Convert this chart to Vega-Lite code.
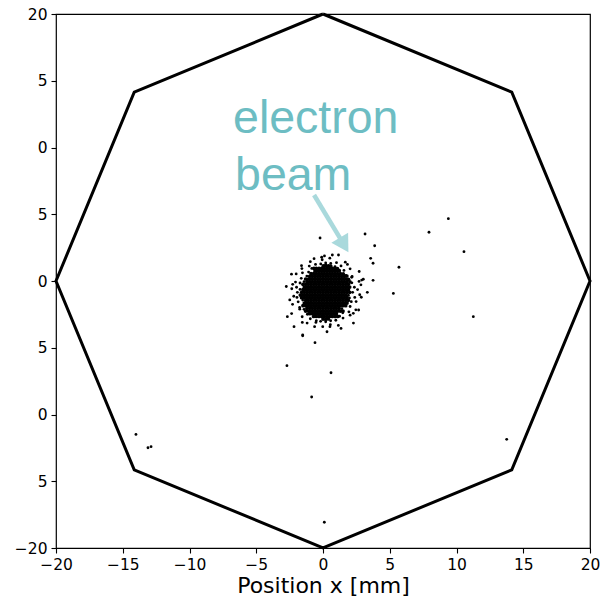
{
  "$schema": "https://vega.github.io/schema/vega-lite/v6.json",
  "width": 534,
  "height": 534,
  "autosize": {"type": "none"},
  "padding": {"left": 56, "top": 14, "right": 12, "bottom": 54},
  "background": "white",
  "config": {
    "view": {"stroke": "black", "strokeWidth": 1.2},
    "axis": {
      "domain": false,
      "grid": false,
      "ticks": true,
      "tickColor": "black",
      "tickSize": 5,
      "tickWidth": 1.1,
      "labelFont": "DejaVu Sans",
      "labelFontSize": 15.5,
      "labelColor": "black",
      "labelPadding": 4,
      "labelFlush": false,
      "titleFont": "DejaVu Sans",
      "titleFontSize": 22,
      "titleFontWeight": "normal",
      "titleColor": "black"
    }
  },
  "datasets": {
    "octagon": [
      {"i": 0, "x": 0, "y": 20},
      {"i": 1, "x": 14.14, "y": 14.14},
      {"i": 2, "x": 20, "y": 0},
      {"i": 3, "x": 14.14, "y": -14.14},
      {"i": 4, "x": 0, "y": -20},
      {"i": 5, "x": -14.14, "y": -14.14},
      {"i": 6, "x": -20, "y": 0},
      {"i": 7, "x": -14.14, "y": 14.14},
      {"i": 8, "x": 0, "y": 20}
    ],
    "core": [
      {"x":0.02,"y":1.13},{"x":0.2,"y":1.17},{"x":0.41,"y":1.14},{"x":0.58,"y":1.12},
      {"x":-0.68,"y":0.95},{"x":-0.5,"y":0.95},{"x":-0.3,"y":0.95},{"x":-0.1,"y":0.95},{"x":0.1,"y":0.95},{"x":0.3,"y":0.95},{"x":0.5,"y":0.95},{"x":0.7,"y":0.95},{"x":0.9,"y":0.95},{"x":1.08,"y":0.93},
      {"x":-0.6,"y":0.75},{"x":-0.4,"y":0.75},{"x":-0.2,"y":0.75},{"x":0.0,"y":0.75},{"x":0.2,"y":0.75},{"x":0.4,"y":0.75},{"x":0.6,"y":0.75},{"x":0.8,"y":0.75},{"x":1.0,"y":0.75},{"x":1.22,"y":0.77},
      {"x":-0.9,"y":0.55},{"x":-0.7,"y":0.55},{"x":-0.5,"y":0.55},{"x":-0.3,"y":0.55},{"x":-0.1,"y":0.55},{"x":0.1,"y":0.55},{"x":0.3,"y":0.55},{"x":0.5,"y":0.55},{"x":0.7,"y":0.55},{"x":0.9,"y":0.55},{"x":1.1,"y":0.55},{"x":1.3,"y":0.55},{"x":1.52,"y":0.53},
      {"x":-1.0,"y":0.35},{"x":-0.8,"y":0.35},{"x":-0.6,"y":0.35},{"x":-0.4,"y":0.35},{"x":-0.2,"y":0.35},{"x":0.0,"y":0.35},{"x":0.2,"y":0.35},{"x":0.4,"y":0.35},{"x":0.6,"y":0.35},{"x":0.8,"y":0.35},{"x":1.0,"y":0.35},{"x":1.2,"y":0.35},{"x":1.4,"y":0.35},{"x":1.6,"y":0.35},{"x":1.79,"y":0.37},
      {"x":-1.3,"y":0.15},{"x":-1.1,"y":0.15},{"x":-0.9,"y":0.15},{"x":-0.7,"y":0.15},{"x":-0.5,"y":0.15},{"x":-0.3,"y":0.15},{"x":-0.1,"y":0.15},{"x":0.1,"y":0.15},{"x":0.3,"y":0.15},{"x":0.5,"y":0.15},{"x":0.7,"y":0.15},{"x":0.9,"y":0.15},{"x":1.1,"y":0.15},{"x":1.3,"y":0.15},{"x":1.5,"y":0.15},{"x":1.7,"y":0.15},{"x":1.91,"y":0.13},
      {"x":-1.2,"y":-0.05},{"x":-1.0,"y":-0.05},{"x":-0.8,"y":-0.05},{"x":-0.6,"y":-0.05},{"x":-0.4,"y":-0.05},{"x":-0.2,"y":-0.05},{"x":0.0,"y":-0.05},{"x":0.2,"y":-0.05},{"x":0.4,"y":-0.05},{"x":0.6,"y":-0.05},{"x":0.8,"y":-0.05},{"x":1.0,"y":-0.05},{"x":1.2,"y":-0.05},{"x":1.4,"y":-0.05},{"x":1.6,"y":-0.05},{"x":1.8,"y":-0.05},{"x":2.02,"y":-0.07},
      {"x":-1.5,"y":-0.25},{"x":-1.3,"y":-0.25},{"x":-1.1,"y":-0.25},{"x":-0.9,"y":-0.25},{"x":-0.7,"y":-0.25},{"x":-0.5,"y":-0.25},{"x":-0.3,"y":-0.25},{"x":-0.1,"y":-0.25},{"x":0.1,"y":-0.25},{"x":0.3,"y":-0.25},{"x":0.5,"y":-0.25},{"x":0.7,"y":-0.25},{"x":0.9,"y":-0.25},{"x":1.1,"y":-0.25},{"x":1.3,"y":-0.25},{"x":1.5,"y":-0.25},{"x":1.7,"y":-0.25},{"x":1.9,"y":-0.25},
      {"x":-1.4,"y":-0.45},{"x":-1.2,"y":-0.45},{"x":-1.0,"y":-0.45},{"x":-0.8,"y":-0.45},{"x":-0.6,"y":-0.45},{"x":-0.4,"y":-0.45},{"x":-0.2,"y":-0.45},{"x":0.0,"y":-0.45},{"x":0.2,"y":-0.45},{"x":0.4,"y":-0.45},{"x":0.6,"y":-0.45},{"x":0.8,"y":-0.45},{"x":1.0,"y":-0.45},{"x":1.2,"y":-0.45},{"x":1.4,"y":-0.45},{"x":1.6,"y":-0.45},{"x":1.8,"y":-0.45},{"x":2.0,"y":-0.45},
      {"x":-1.5,"y":-0.65},{"x":-1.3,"y":-0.65},{"x":-1.1,"y":-0.65},{"x":-0.9,"y":-0.65},{"x":-0.7,"y":-0.65},{"x":-0.5,"y":-0.65},{"x":-0.3,"y":-0.65},{"x":-0.1,"y":-0.65},{"x":0.1,"y":-0.65},{"x":0.3,"y":-0.65},{"x":0.5,"y":-0.65},{"x":0.7,"y":-0.65},{"x":0.9,"y":-0.65},{"x":1.1,"y":-0.65},{"x":1.3,"y":-0.65},{"x":1.5,"y":-0.65},{"x":1.7,"y":-0.65},{"x":1.9,"y":-0.65},
      {"x":-1.6,"y":-0.85},{"x":-1.4,"y":-0.85},{"x":-1.2,"y":-0.85},{"x":-1.0,"y":-0.85},{"x":-0.8,"y":-0.85},{"x":-0.6,"y":-0.85},{"x":-0.4,"y":-0.85},{"x":-0.2,"y":-0.85},{"x":0.0,"y":-0.85},{"x":0.2,"y":-0.85},{"x":0.4,"y":-0.85},{"x":0.6,"y":-0.85},{"x":0.8,"y":-0.85},{"x":1.0,"y":-0.85},{"x":1.2,"y":-0.85},{"x":1.4,"y":-0.85},{"x":1.6,"y":-0.85},{"x":1.8,"y":-0.85},{"x":2.0,"y":-0.85},
      {"x":-1.7,"y":-1.05},{"x":-1.5,"y":-1.05},{"x":-1.3,"y":-1.05},{"x":-1.1,"y":-1.05},{"x":-0.9,"y":-1.05},{"x":-0.7,"y":-1.05},{"x":-0.5,"y":-1.05},{"x":-0.3,"y":-1.05},{"x":-0.1,"y":-1.05},{"x":0.1,"y":-1.05},{"x":0.3,"y":-1.05},{"x":0.5,"y":-1.05},{"x":0.7,"y":-1.05},{"x":0.9,"y":-1.05},{"x":1.1,"y":-1.05},{"x":1.3,"y":-1.05},{"x":1.5,"y":-1.05},{"x":1.7,"y":-1.05},
      {"x":-1.6,"y":-1.25},{"x":-1.4,"y":-1.25},{"x":-1.2,"y":-1.25},{"x":-1.0,"y":-1.25},{"x":-0.8,"y":-1.25},{"x":-0.6,"y":-1.25},{"x":-0.4,"y":-1.25},{"x":-0.2,"y":-1.25},{"x":0.0,"y":-1.25},{"x":0.2,"y":-1.25},{"x":0.4,"y":-1.25},{"x":0.6,"y":-1.25},{"x":0.8,"y":-1.25},{"x":1.0,"y":-1.25},{"x":1.2,"y":-1.25},{"x":1.4,"y":-1.25},{"x":1.6,"y":-1.25},{"x":1.8,"y":-1.25},
      {"x":-1.3,"y":-1.45},{"x":-1.1,"y":-1.45},{"x":-0.9,"y":-1.45},{"x":-0.7,"y":-1.45},{"x":-0.5,"y":-1.45},{"x":-0.3,"y":-1.45},{"x":-0.1,"y":-1.45},{"x":0.1,"y":-1.45},{"x":0.3,"y":-1.45},{"x":0.5,"y":-1.45},{"x":0.7,"y":-1.45},{"x":0.9,"y":-1.45},{"x":1.1,"y":-1.45},{"x":1.3,"y":-1.45},{"x":1.5,"y":-1.45},{"x":1.7,"y":-1.45},{"x":1.9,"y":-1.45},
      {"x":-1.4,"y":-1.65},{"x":-1.2,"y":-1.65},{"x":-1.0,"y":-1.65},{"x":-0.8,"y":-1.65},{"x":-0.6,"y":-1.65},{"x":-0.4,"y":-1.65},{"x":-0.2,"y":-1.65},{"x":0.0,"y":-1.65},{"x":0.2,"y":-1.65},{"x":0.4,"y":-1.65},{"x":0.6,"y":-1.65},{"x":0.8,"y":-1.65},{"x":1.0,"y":-1.65},{"x":1.2,"y":-1.65},{"x":1.4,"y":-1.65},{"x":1.6,"y":-1.65},{"x":1.8,"y":-1.65},
      {"x":-1.5,"y":-1.85},{"x":-1.3,"y":-1.85},{"x":-1.1,"y":-1.85},{"x":-0.9,"y":-1.85},{"x":-0.7,"y":-1.85},{"x":-0.5,"y":-1.85},{"x":-0.3,"y":-1.85},{"x":-0.1,"y":-1.85},{"x":0.1,"y":-1.85},{"x":0.3,"y":-1.85},{"x":0.5,"y":-1.85},{"x":0.7,"y":-1.85},{"x":0.9,"y":-1.85},{"x":1.1,"y":-1.85},{"x":1.3,"y":-1.85},{"x":1.5,"y":-1.85},{"x":1.7,"y":-1.85},
      {"x":-1.2,"y":-2.05},{"x":-1.0,"y":-2.05},{"x":-0.8,"y":-2.05},{"x":-0.6,"y":-2.05},{"x":-0.4,"y":-2.05},{"x":-0.2,"y":-2.05},{"x":0.0,"y":-2.05},{"x":0.2,"y":-2.05},{"x":0.4,"y":-2.05},{"x":0.6,"y":-2.05},{"x":0.8,"y":-2.05},{"x":1.0,"y":-2.05},{"x":1.2,"y":-2.05},
      {"x":-1.3,"y":-2.25},{"x":-1.1,"y":-2.25},{"x":-0.9,"y":-2.25},{"x":-0.7,"y":-2.25},{"x":-0.5,"y":-2.25},{"x":-0.3,"y":-2.25},{"x":-0.1,"y":-2.25},{"x":0.1,"y":-2.25},{"x":0.3,"y":-2.25},{"x":0.5,"y":-2.25},{"x":0.7,"y":-2.25},{"x":0.9,"y":-2.25},{"x":1.1,"y":-2.25},{"x":1.3,"y":-2.25},{"x":1.5,"y":-2.25},
      {"x":-1.0,"y":-2.45},{"x":-0.8,"y":-2.45},{"x":-0.6,"y":-2.45},{"x":-0.4,"y":-2.45},{"x":-0.2,"y":-2.45},{"x":0.0,"y":-2.45},{"x":0.2,"y":-2.45},{"x":0.4,"y":-2.45},{"x":0.6,"y":-2.45},{"x":0.8,"y":-2.45},{"x":1.0,"y":-2.45},
      {"x":-0.7,"y":-2.65},{"x":-0.5,"y":-2.65},{"x":-0.3,"y":-2.65},{"x":-0.1,"y":-2.65},{"x":0.1,"y":-2.65},{"x":0.3,"y":-2.65},{"x":0.5,"y":-2.65},{"x":0.7,"y":-2.65},{"x":0.9,"y":-2.65},{"x":1.1,"y":-2.65},
      {"x":0.0,"y":-2.85},{"x":0.2,"y":-2.87},{"x":0.4,"y":-2.84}
    ],
    "hits": [
      {"x":2.22,"y":-0.85},{"x":2.35,"y":-0.47},{"x":2.16,"y":-0.14},{"x":2.15,"y":0.28},{"x":1.72,"y":0.42},{"x":1.57,"y":0.79},{"x":1.35,"y":1.13},{"x":0.90,"y":1.08},{"x":0.58,"y":1.32},{"x":0.20,"y":1.35},{"x":-0.17,"y":1.28},{"x":-0.56,"y":1.24},{"x":-0.84,"y":0.94},{"x":-1.08,"y":0.67},{"x":-1.54,"y":0.61},{"x":-1.63,"y":0.20},{"x":-1.72,"y":-0.15},{"x":-1.98,"y":-0.47},
      {"x":-1.92,"y":-0.85},{"x":-1.95,"y":-1.23},{"x":-1.86,"y":-1.56},{"x":-1.75,"y":-1.98},{"x":-1.42,"y":-2.12},{"x":-1.17,"y":-2.49},{"x":-0.95,"y":-2.83},{"x":-0.50,"y":-2.98},{"x":-0.18,"y":-3.02},{"x":0.20,"y":-3.05},{"x":0.57,"y":-2.98},{"x":0.96,"y":-2.94},{"x":1.24,"y":-2.64},{"x":1.48,"y":-2.38},{"x":1.94,"y":-2.31},{"x":2.03,"y":-1.91},{"x":2.12,"y":-1.55},{"x":2.38,"y":-1.23},
      {"x":2.59,"y":-0.64},{"x":2.70,"y":-0.03},{"x":2.18,"y":0.34},{"x":2.03,"y":0.91},{"x":1.67,"y":1.41},{"x":1.01,"y":1.37},{"x":0.51,"y":1.71},{"x":-0.06,"y":1.59},{"x":-0.67,"y":1.67},{"x":-1.03,"y":1.12},{"x":-1.58,"y":0.93},{"x":-2.01,"y":0.53},{"x":-2.06,"y":-0.08},{"x":-2.34,"y":-0.58},
      {"x":-2.19,"y":-1.14},{"x":-2.28,"y":-1.75},{"x":-1.74,"y":-2.11},{"x":-1.56,"y":-2.68},{"x":-1.19,"y":-3.15},{"x":-0.53,"y":-3.10},{"x":-0.02,"y":-3.42},{"x":0.55,"y":-3.28},{"x":1.15,"y":-3.33},{"x":1.50,"y":-2.78},{"x":2.03,"y":-2.56},{"x":2.46,"y":-2.16},{"x":2.48,"y":-1.54},{"x":2.75,"y":-1.03},
      {"x":2.84,"y":-0.29},{"x":2.71,"y":0.71},{"x":1.83,"y":1.24},{"x":1.16,"y":1.95},{"x":0.11,"y":1.88},{"x":-0.95,"y":1.45},{"x":-1.61,"y":1.15},{"x":-2.36,"y":0.51},{"x":-2.75,"y":-0.41},{"x":-2.49,"y":-1.42},{"x":-2.35,"y":-2.44},{"x":-1.55,"y":-3.10},{"x":-0.63,"y":-3.42},{"x":0.30,"y":-3.80},{"x":1.35,"y":-3.55},{"x":2.28,"y":-3.15},{"x":2.67,"y":-2.17},{"x":2.87,"y":-1.22},
      {"x":-1.42,"y":-0.05},{"x":-1.72,"y":-0.63},{"x":1.9,"y":-1.07},{"x":1.98,"y":-1.27},{"x":-1.52,"y":-1.43},{"x":1.41,"y":-2.07},{"x":-1.21,"y":0.37},
      {"x":-2.27,"y":-0.25},{"x":-2.67,"y":-2.67},{"x":-2.17,"y":-3.42},{"x":-1.52,"y":-4.04},{"x":2.90,"y":0.07},{"x":3.02,"y":0.13},{"x":2.27,"y":-2.42},{"x":0.52,"y":-3.42},{"x":0.70,"y":1.95},{"x":-0.10,"y":1.78},
      {"x":3.15,"y":3.52},{"x":3.87,"y":2.64},{"x":3.57,"y":1.70},{"x":3.75,"y":1.33},{"x":3.75,"y":0.05},{"x":3.32,"y":-0.85},{"x":5.69,"y":1.03},{"x":5.27,"y":-0.93},{"x":7.94,"y":3.65},{"x":9.39,"y":4.67},{"x":10.56,"y":2.20},{"x":11.26,"y":-2.67},{"x":-0.22,"y":3.22},
      {"x":-1.52,"y":-4.10},{"x":-0.60,"y":-4.62},{"x":-2.70,"y":-6.34},{"x":0.60,"y":-6.87},{"x":-0.85,"y":-8.69},{"x":0.10,"y":-18.07},{"x":-14.01,"y":-11.49},{"x":-13.11,"y":-12.49},{"x":-12.88,"y":-12.41},{"x":13.76,"y":-11.86}
    ],
    "arrow": [{"x": -0.67, "y": 6.44, "x2": 1.58, "y2": 2.70}],
    "label": [
      {"t": "electron", "x": -6.74, "y": 11.09},
      {"t": "beam", "x": -6.59, "y": 6.82}
    ]
  },
  "layer": [
    {
      "data": {"name": "octagon"},
      "mark": {"type": "line", "color": "black", "strokeWidth": 3, "strokeJoin": "miter"},
      "encoding": {
        "x": {
          "field": "x", "type": "quantitative",
          "scale": {"domain": [-20, 20], "nice": false, "zero": false},
          "axis": {"values": [-20, -15, -10, -5, 0, 5, 10, 15, 20], "title": "Position x [mm]", "titlePadding": 3}
        },
        "y": {
          "field": "y", "type": "quantitative",
          "scale": {"domain": [-20, 20], "nice": false, "zero": false},
          "axis": {
            "values": [-20, -15, -10, -5, 0, 5, 10, 15, 20],
            "title": null,
            "labelExpr": "abs(datum.value) == 20 ? datum.label : slice(datum.label, -1)"
          }
        },
        "order": {"field": "i", "type": "quantitative"}
      }
    },
    {
      "data": {"name": "core"},
      "mark": {"type": "circle", "color": "black", "size": 14, "opacity": 1},
      "encoding": {
        "x": {"field": "x", "type": "quantitative"},
        "y": {"field": "y", "type": "quantitative"}
      }
    },
    {
      "data": {"name": "hits"},
      "mark": {"type": "circle", "color": "black", "size": 8, "opacity": 1},
      "encoding": {
        "x": {"field": "x", "type": "quantitative"},
        "y": {"field": "y", "type": "quantitative"}
      }
    },
    {
      "data": {"name": "arrow"},
      "mark": {"type": "rule", "color": "#a9d9dc", "strokeWidth": 4.5},
      "encoding": {
        "x": {"field": "x", "type": "quantitative"},
        "y": {"field": "y", "type": "quantitative"},
        "x2": {"field": "x2"},
        "y2": {"field": "y2"}
      }
    },
    {
      "data": {"name": "arrow"},
      "mark": {"type": "point", "shape": "triangle-right", "filled": true, "color": "#a9d9dc", "opacity": 1, "size": 380, "angle": 59},
      "encoding": {
        "x": {"field": "x2", "type": "quantitative"},
        "y": {"field": "y2", "type": "quantitative"}
      }
    },
    {
      "data": {"name": "label"},
      "mark": {"type": "text", "align": "left", "baseline": "alphabetic", "font": "Liberation Sans", "fontSize": 46.5, "color": "#6dbdc3"},
      "encoding": {
        "x": {"field": "x", "type": "quantitative"},
        "y": {"field": "y", "type": "quantitative"},
        "text": {"field": "t"}
      }
    }
  ]
}
